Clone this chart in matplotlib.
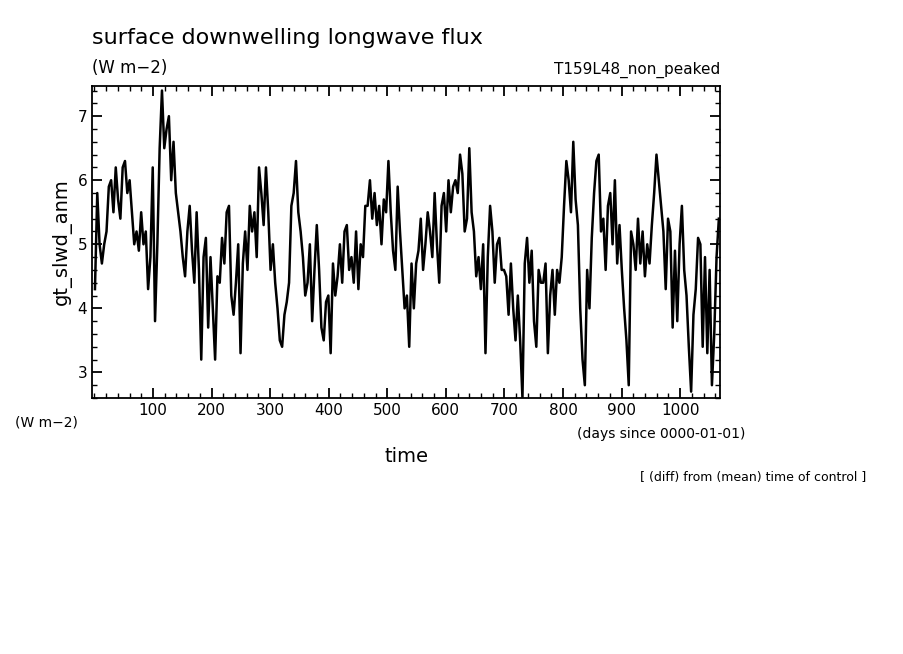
import numpy as np
import matplotlib
matplotlib.use("Agg")
import matplotlib.pyplot as plt

values = [4.3, 5.8, 5.0, 4.7, 5.0,
          5.2, 5.9, 6.0, 5.5, 6.2, 5.7, 5.4, 6.2, 6.3, 5.8,
          6.0, 5.5, 5.0, 5.2, 4.9, 5.5, 5.0, 5.2, 4.3, 4.8, 6.2, 3.8,
          5.0, 6.5, 7.4, 6.5, 6.8, 7.0, 6.0, 6.6, 5.8, 5.5,
          5.2, 4.8, 4.5, 5.2, 5.6, 4.9, 4.4, 5.5, 4.6, 3.2,
          4.8, 5.1, 3.7, 4.8, 4.0, 3.2, 4.5, 4.4, 5.1, 4.7,
          5.5, 5.6, 4.2, 3.9, 4.4, 5.0, 3.3, 4.7, 5.2, 4.6,
          5.6, 5.2, 5.5, 4.8, 6.2, 5.8, 5.3, 6.2, 5.5, 4.6,
          5.0, 4.4, 4.0, 3.5, 3.4, 3.9, 4.1, 4.4, 5.6, 5.8,
          6.3, 5.5, 5.2, 4.8, 4.2, 4.4, 5.0, 3.8, 4.6, 5.3,
          4.6, 3.7, 3.5, 4.1, 4.2, 3.3, 4.7, 4.2, 4.5, 5.0,
          4.4, 5.2, 5.3, 4.6, 4.8, 4.4, 5.2, 4.3, 5.0, 4.8,
          5.6, 5.6, 6.0, 5.4, 5.8, 5.3, 5.6, 5.0, 5.7, 5.5,
          6.3, 5.5, 4.9, 4.6, 5.9, 5.2, 4.6, 4.0, 4.2, 3.4,
          4.7, 4.0, 4.7, 4.9, 5.4, 4.6, 5.0, 5.5, 5.2, 4.8,
          5.8, 5.0, 4.4, 5.6, 5.8, 5.2, 6.0, 5.5, 5.9, 6.0,
          5.8, 6.4, 6.1, 5.2, 5.4, 6.5, 5.5, 5.2, 4.5, 4.8,
          4.3, 5.0, 3.3, 4.8, 5.6, 5.2, 4.4, 5.0, 5.1, 4.6,
          4.6, 4.5, 3.9, 4.7, 4.0, 3.5, 4.2, 3.5, 2.6, 4.7,
          5.1, 4.4, 4.9, 3.8, 3.4, 4.6, 4.4, 4.4, 4.7, 3.3,
          4.2, 4.6, 3.9, 4.6, 4.4, 4.8, 5.6, 6.3, 6.0, 5.5,
          6.6, 5.7, 5.3, 4.0, 3.2, 2.8, 4.6, 4.0, 5.1, 5.8,
          6.3, 6.4, 5.2, 5.4, 4.6, 5.6, 5.8, 5.0, 6.0, 4.7,
          5.3, 4.6, 4.0, 3.5, 2.8, 5.2, 5.0, 4.6, 5.4, 4.7,
          5.2, 4.5, 5.0, 4.7, 5.3, 5.8, 6.4, 6.0, 5.6, 5.2,
          4.3, 5.4, 5.2, 3.7, 4.9, 3.8, 5.0, 5.6, 4.6, 4.2,
          3.4, 2.7, 3.9, 4.3, 5.1, 5.0, 3.4, 4.8, 3.3, 4.6,
          2.8, 3.6, 4.8, 5.4]
days = np.linspace(1, 1066, len(values))

xticks = [100, 200, 300, 400, 500, 600, 700, 800, 900, 1000]
yticks = [3, 4, 5, 6, 7]

fig = plt.figure(figsize=(9.04, 6.54), dpi=100)
ax = fig.add_axes([0.1018, 0.3914, 0.6947, 0.477])
ax.plot(days, values, color="black", lw=1.8)
ax.set_xlim(-4, 1068)
ax.set_ylim(2.6, 7.47)
ax.set_xticks(xticks)
ax.set_yticks(yticks)
ax.set_xticks(np.arange(0, 1070, 20), minor=True)
ax.set_yticks(np.arange(2.6, 7.5, 0.2), minor=True)
ax.tick_params(which="both", direction="in", top=True, right=True, labelsize=11)
ax.tick_params(which="major", length=7, width=1.3)
ax.tick_params(which="minor", length=3.5, width=1)
for s in ax.spines.values():
    s.set_linewidth(1.3)
ax.set_ylabel("gt_slwd_anm", fontsize=14)

fig.text(92/904, 1-38/654, "surface downwelling longwave flux", fontsize=16, va="center")
fig.text(92/904, 1-68/654, "(W m\u22122)", fontsize=12, va="center")
fig.text(720/904, 1-70/654, "T159L48_non_peaked", fontsize=11, va="center", ha="right")
fig.text(15/904, 1-423/654, "(W m\u22122)", fontsize=10, va="center")
fig.text(745/904, 1-434/654, "(days since 0000-01-01)", fontsize=10, va="center", ha="right")
fig.text(407/904, 1-457/654, "time", fontsize=14, va="center", ha="center")
fig.text(866/904, 1-478/654, "[ (diff) from (mean) time of control ]", fontsize=9, va="center", ha="right")
fig.savefig("out.png", dpi=100)
